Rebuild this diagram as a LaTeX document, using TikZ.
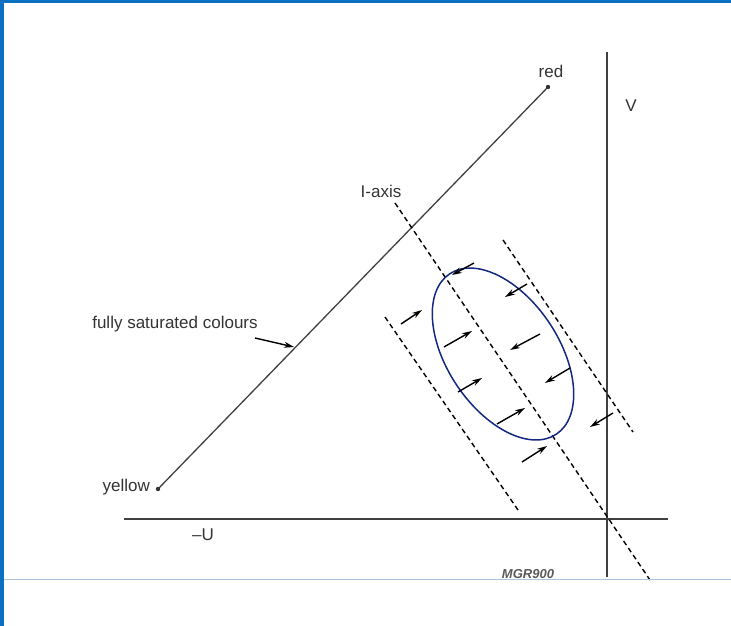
\documentclass[tikz,border=0pt]{standalone}
\usepackage{fontspec}
\setmainfont{Liberation Sans}
\usetikzlibrary{arrows.meta}
\definecolor{framblue}{RGB}{12,112,194}
\definecolor{rulegray}{RGB}{172,198,222}
\definecolor{ellblue}{RGB}{20,40,130}

\begin{document}
\begin{tikzpicture}[
  x=1pt, y=-1pt,
  font=\fontsize{17}{20}\selectfont, text=black!80,
  axis/.style={draw=black!75, line width=1.5pt},
  satline/.style={draw=black!75, line width=1.3pt},
  dashline/.style={draw=black, line width=1.4pt, dash pattern=on 5pt off 3.5pt},
  ell/.style={draw=ellblue, line width=1.5pt},
  arr/.style={-{Stealth[length=10pt, width=6pt]}, line width=1.4pt},
  lab/.style={inner sep=0pt},
  frame/.style={fill=framblue, draw=none}]
\useasboundingbox (0,0) rectangle (731,626);
% --- page frame
\fill[frame] (0,0) rectangle (4,626);
\fill[frame] (0,0) rectangle (731,3);
% --- axes
\coordinate (vtop) at (607,52);
\coordinate (vbot) at (607,577);
\coordinate (uleft) at (124,519);
\coordinate (uright) at (668,519);
\draw[axis] (vtop) -- (vbot);
\draw[axis] (uleft) -- (uright);
\node[lab] (vlab) at (631,106) {V};
\node[lab] (ulab) at (203,535) {--U};
% --- line of fully saturated colours
\coordinate (yel) at (158,489);
\coordinate (rd) at (548,87);
\draw[satline] (yel) -- (rd);
\fill[black!80] (yel) circle (2.2pt) (rd) circle (2.2pt);
\node[lab, anchor=east] (yellab) at (150,487) {yellow};
\node[lab] (redlab) at (551,71) {red};
\node[lab] (satlab) at (175,324) {fully saturated colours};
\coordinate (sat1) at (255,338);
\coordinate (sat2) at (294,347);
\draw[arr] (sat1) -- (sat2);
% --- I-axis and the two limits beside it
\coordinate (i1) at (395,203);
\coordinate (i2) at (650,580);
\coordinate (l1) at (385,317);
\coordinate (l2) at (518,510);
\coordinate (r1) at (503,240);
\coordinate (r2) at (633,432);
\draw[dashline] (i1) -- (i2);
\draw[dashline] (l1) -- (l2);
\draw[dashline] (r1) -- (r2);
\node[lab] (ilab) at (381,191) {I-axis};
% --- skin tone region
\draw[ell, rotate around={-56.4:(503,354)}] (503,354) ellipse [x radius=96.3, y radius=55.8];
\foreach \i/\tx/\ty/\hx/\hy in {1/474/263/452/275, 2/527/284/505/297, 3/401/324/422/310,
    4/444/347/472/331, 5/540/334/510/350, 6/570/368/545/383, 7/458/392/482/378,
    8/497/424/525/408, 9/613/413/590/427, 10/522/462/547/446} {
  \coordinate (t\i) at (\tx,\ty);
  \coordinate (h\i) at (\hx,\hy);
  \draw[arr] (t\i) -- (h\i);
}
% --- figure code
\node[lab, font=\fontsize{13}{15}\selectfont\itshape\bfseries, text=black!65] (code) at (528,574) {MGR900};
\draw[rulegray, line width=1pt] (4,579) -- (731,579);
\end{tikzpicture}
\end{document}
